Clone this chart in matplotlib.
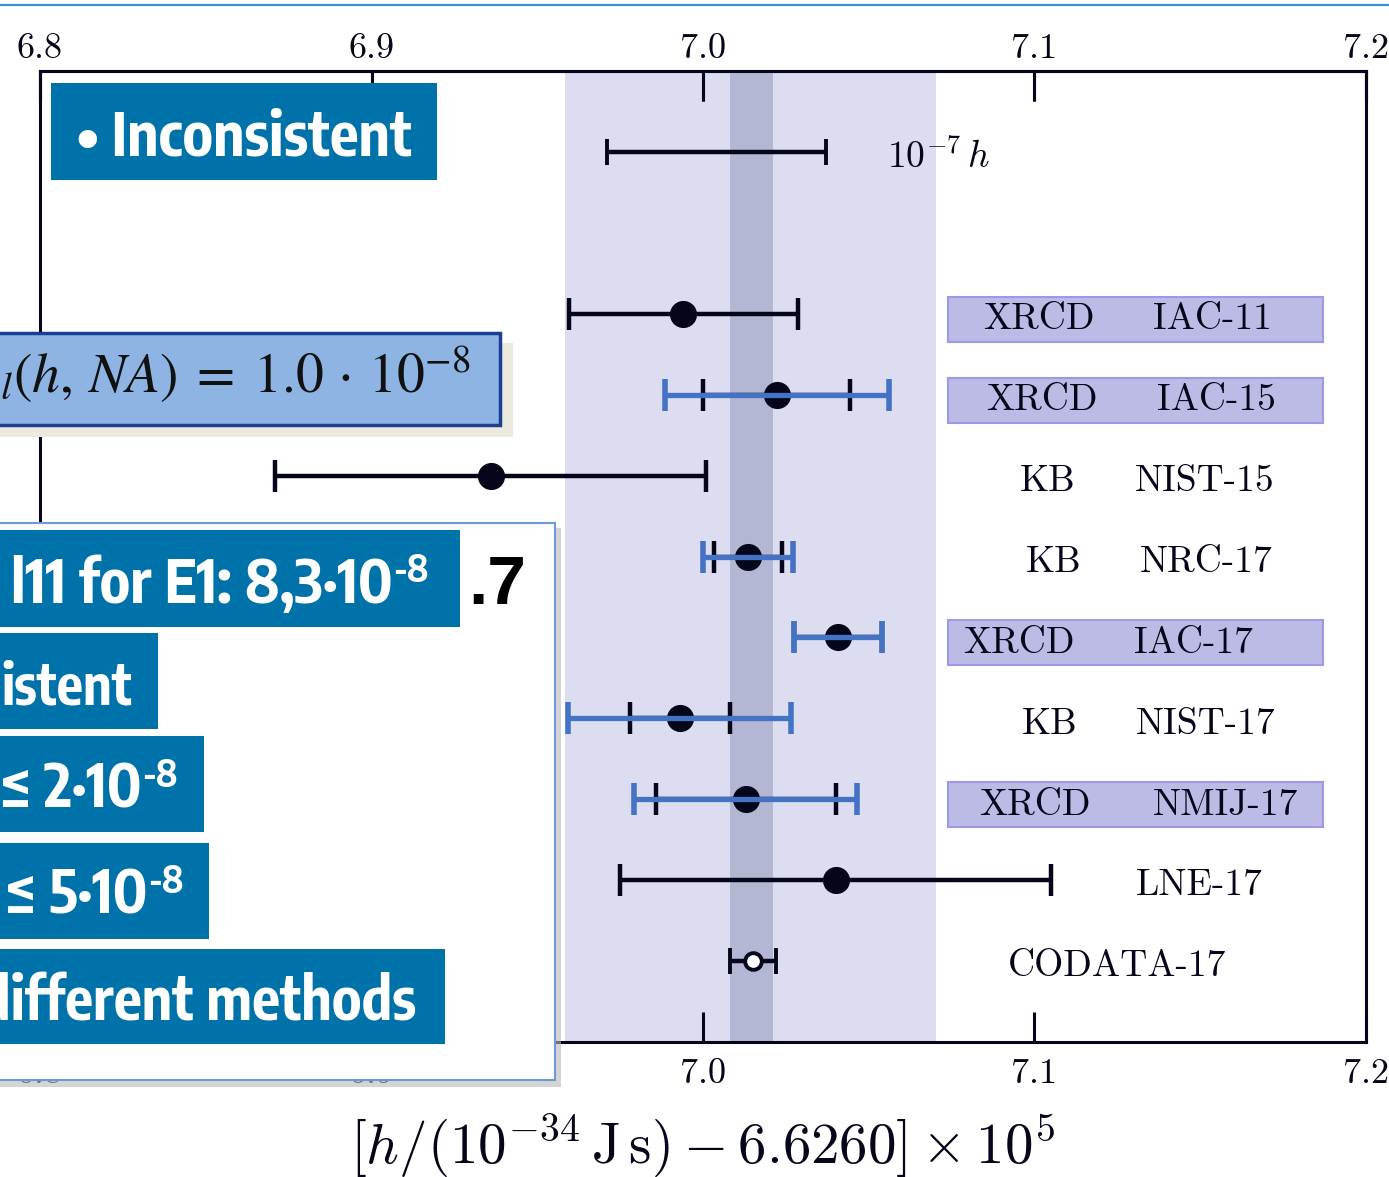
import matplotlib
matplotlib.use("Agg")
import matplotlib.pyplot as plt
import matplotlib.font_manager as fm
import matplotlib.patheffects as pe
from matplotlib.patches import Rectangle
from matplotlib.lines import Line2D
import numpy as np

# measurements of h, shown as [h/(1e-34 J s) - 6.6260] x 1e5
labs = ["IAC-11", "IAC-15", "NIST-15", "NRC-17", "IAC-17",
        "NIST-17", "NMIJ-17", "LNE-17", "CODATA-17"]
methods = ["XRCD", "XRCD", "KB", "KB", "XRCD", "KB", "XRCD", "", ""]
values = [6.9941, 7.0222, 6.9359, 7.0135, 7.0407, 6.9930, 7.0129, 7.0400, 7.0150]
unc_black = [0.0345, 0.0222, 0.0650, 0.0102, 0.0133, 0.0150, 0.0272, 0.0650, 0.0070]
unc_blue = [np.nan, 0.0338, np.nan, 0.0135, 0.0133, 0.0336, 0.0336, np.nan, np.nan]

# 10^-7 h scale bar
scale_center = 7.0041
scale_len = 0.0663

band_wide = (6.9585, 7.0702)
band_narrow = (7.0080, 7.0211)

tick_vals = [6.8, 6.9, 7.0, 7.1, 7.2]
tick_labels = ["6.8", "6.9", "7.0", "7.1", "7.2"]

# label placement (x of method / lab name centre)
method_x = [7.1013, 7.1022, 7.1040, 7.1059, 7.0953, 7.1047, 7.1001, None, None]
lab_x = [7.1536, 7.1548, 7.1514, 7.1517, 7.1478, 7.1517, 7.1575, 7.1496, 7.1249]

W, H = 1389, 1177
ink = "#05061a"
blue = "#4472c4"
teal = "#0072aa"

plt.rcParams["mathtext.fontset"] = "cm"
plt.rcParams["font.family"] = "cmr10"
plt.rcParams["axes.formatter.use_mathtext"] = True


def wnum(w):
    if isinstance(w, (int, float)):
        return w
    return fm.weight_dict.get(str(w).lower(), 400)


# narrow bold sans for the slide boxes, if there is one
narrow_fonts = [f for f in fm.fontManager.ttflist
                if "narrow" in f.name.lower() or "condensed" in f.name.lower()]
bold_narrow = [f for f in narrow_fonts if wnum(f.weight) >= 600 and "sans" in f.name.lower()]
bold_narrow += [f for f in narrow_fonts if wnum(f.weight) >= 600]
stroke = []
if bold_narrow:
    narrow = bold_narrow[0].name
elif narrow_fonts:
    narrow = narrow_fonts[0].name
    stroke = [pe.withStroke(linewidth=2.6, foreground="white")]
else:
    narrow = "Liberation Sans"
slide_font = [narrow, "Liberation Sans", "DejaVu Sans"]

fig = plt.figure(figsize=(W / 100, H / 100), dpi=100)
ax = fig.add_axes([40 / W, 1 - 1042 / H, (1366 - 40) / W, (1042 - 71) / H])
renderer = fig.canvas.get_renderer()


def text_width(s, size):
    t = fig.text(0, 0, s, fontsize=size, fontweight="bold", family=slide_font)
    w = t.get_window_extent(renderer).width
    t.remove()
    return w


# fit the slide font so that "Inconsistent" is as wide as on the slide
nscale = min(1.03, 300 / text_width("Inconsistent", 44))

rows = np.arange(2, 2 + len(labs))

ax.axvspan(*band_wide, color="#dcddf0", lw=0, zorder=0)
ax.axvspan(*band_narrow, color="#b3b7d3", lw=0, zorder=0.5)

ax.errorbar(scale_center, 0, xerr=scale_len / 2, fmt="none", ecolor=ink,
            elinewidth=3.2, capsize=9.4, capthick=2.8, zorder=3)
ax.text(7.0554, 0.2, r"$10^{-7}\,h$", fontsize=27, ha="left", va="baseline", color=ink)

for i, lab in enumerate(labs):
    if lab.startswith("CODATA"):
        ax.errorbar(values[i], rows[i], xerr=unc_black[i], fmt="o", color=ink,
                    mfc="white", ms=12, mew=2.8, elinewidth=3.2, capsize=9.6,
                    capthick=2.8, zorder=3)
    else:
        ax.errorbar(values[i], rows[i], xerr=unc_black[i], fmt="o", color=ink,
                    ms=18.5, elinewidth=3.2, capsize=11.5, capthick=3.2, zorder=3)
    if not np.isnan(unc_blue[i]):
        ax.errorbar(values[i], rows[i], xerr=unc_blue[i], fmt="none", ecolor=blue,
                    elinewidth=3.8, capsize=11.5, capthick=4, zorder=4)

    if methods[i] == "XRCD":
        ax.add_patch(Rectangle((7.074, rows[i] - 0.21), 0.113, 0.556,
                               facecolor="#bcbbe6", edgecolor="#9c9ae6", lw=1.5, zorder=1))
    if method_x[i] is not None:
        ax.text(method_x[i], rows[i] + 0.07, methods[i], fontsize=27, ha="center",
                va="center", color=ink, zorder=5)
    ax.text(lab_x[i], rows[i] + 0.07, lab, fontsize=27, ha="center", va="center",
            color=ink, zorder=5)

ax.set_xlim(6.8, 7.2)
ax.set_ylim(11, -1)
ax.set_yticks([])
ax.set_xticks(tick_vals)
ax.set_xticklabels(tick_labels)
ax.tick_params(axis="x", direction="in", length=21.5, width=2.2, top=True,
               labeltop=False, labelsize=26, pad=12, colors=ink)
for sp in ax.spines.values():
    sp.set_linewidth(2.2)
    sp.set_color(ink)

secax = ax.secondary_xaxis("top")
secax.set_xticks(tick_vals)
secax.set_xticklabels(tick_labels)
secax.tick_params(direction="in", length=21.5, width=2.2, labelsize=26, pad=4, colors=ink)
secax.spines["top"].set_linewidth(2.2)
secax.spines["top"].set_color(ink)

ax.set_xlabel(r"$[h/(10^{-34}\,\mathrm{J\,s}) - 6.6260] \times 10^5$", fontsize=41, color=ink)
ax.xaxis.set_label_coords(0.5, -(1146 - 1042) / 971)
ax.xaxis.label.set_va("center")


# slide overlays, placed in pixel coordinates of the figure
def fbox(x0, y0, x1, y1, **kw):
    fig.add_artist(Rectangle((x0 / W, 1 - y1 / H), (x1 - x0) / W, (y1 - y0) / H,
                             transform=fig.transFigure, **kw))


def ftext(x, y, s, **kw):
    return fig.text(x / W, 1 - y / H, s, **kw)


def slide_line(x_end, base, main, sup=None, size=44, z=11, fit=None):
    size = size * nscale
    if fit:
        size = min(size * 1.05, size * fit / text_width(main, size))
    end = x_end
    kw = dict(ha="right", va="baseline", color="white", fontweight="bold",
              family=slide_font, zorder=z, path_effects=stroke)
    if sup:
        t = ftext(end, base - 21, sup, fontsize=size * 0.62, **kw)
        end -= t.get_window_extent(renderer).width + 1
    ftext(end, base, main, fontsize=size, **kw)


fig.add_artist(Line2D([0, 1], [1 - 5 / H] * 2, transform=fig.transFigure,
                      color="#3a8fd6", lw=1.6, zorder=5))

fbox(51, 83, 437, 180, facecolor=teal, lw=0, zorder=6)
slide_line(412, 156, "\u2022 Inconsistent", z=7)

fbox(0, 343, 513, 437, facecolor="#ece9df", lw=0, zorder=5)
fbox(-10, 333, 500, 425, facecolor="#8eb4e3", edgecolor="#1c3f94", lw=2.5, zorder=6)
ftext(471, 393, r"$u_{rel}(h,\, NA)\;=\;1.0\,\cdot\,10^{-8}$", ha="right", va="baseline",
      fontsize=40, math_fontfamily="stix", color="#111111", zorder=7)

fbox(0, 528, 561, 1087, facecolor="#b8b8b8", alpha=0.6, lw=0, zorder=8)
fbox(-10, 523, 555, 1080, facecolor="white", edgecolor="#6a9bd6", lw=1.5, zorder=9)

fbox(-10, 530, 460, 627, facecolor=teal, lw=0, zorder=10)
slide_line(429, 602.6, "l11 for E1: 8,3\u00b710", "-8")
ftext(468, 604, ".7", ha="left", va="baseline", color="black", fontweight="bold",
      fontsize=50, family=["Liberation Sans", "DejaVu Sans"], zorder=11)

fbox(-10, 633, 158, 728.5, facecolor=teal, lw=0, zorder=10)
slide_line(132, 704.7, "istent", fit=131)

fbox(-10, 736, 204, 832, facecolor=teal, lw=0, zorder=10)
slide_line(178, 808, "\u2264 2\u00b710", "-8")

fbox(-10, 842.5, 208.6, 938.6, facecolor=teal, lw=0, zorder=10)
slide_line(184, 914, "\u2264 5\u00b710", "-8")

fbox(-10, 948.5, 444.7, 1044, facecolor=teal, lw=0, zorder=10)
slide_line(416, 1020.5, "different methods", fit=436)

fig.savefig("out.png", dpi=100)
